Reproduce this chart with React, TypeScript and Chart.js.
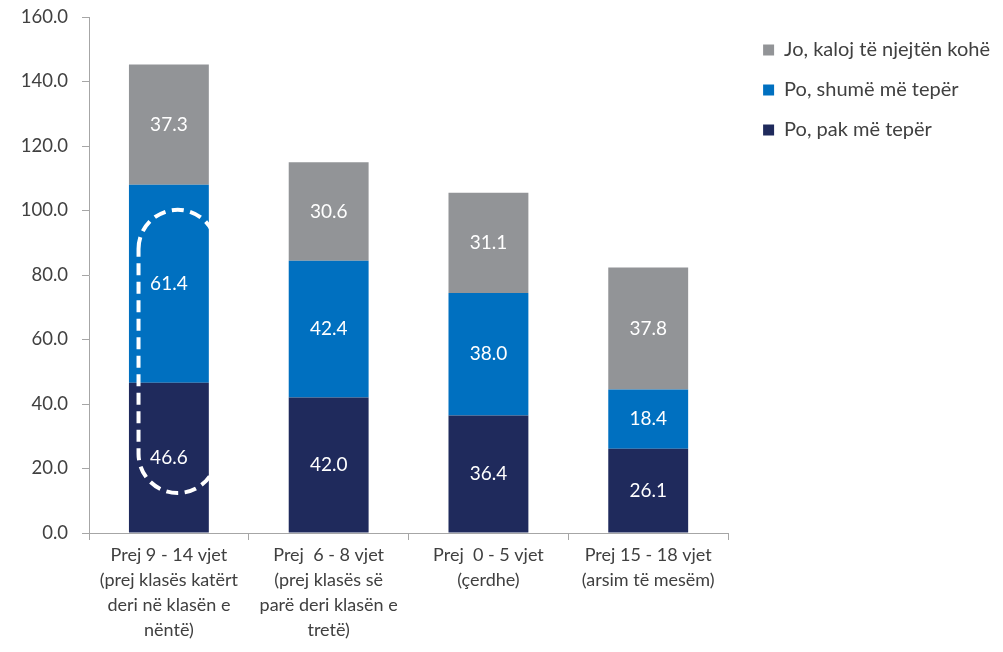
import React, { useEffect, useRef } from "react";
import { Chart, registerables } from "chart.js";

Chart.register(...registerables);

// ---- data ----
const categories: string[][] = [
  ["Prej 9 - 14 vjet", "(prej klasës katërt", "deri në klasën e", "nëntë)"],
  ["Prej  6 - 8 vjet", "(prej klasës së", "parë deri klasën e", "tretë)"],
  ["Prej  0 - 5 vjet", "(çerdhe)"],
  ["Prej 15 - 18 vjet", "(arsim të mesëm)"],
];
const seriesNames = ["Po, pak më tepër", "Po, shumë më tepër", "Jo, kaloj të njejtën kohë"];
const pakMeTeper = [46.6, 42.0, 36.4, 26.1];
const shumeMeTeper = [61.4, 42.4, 38.0, 18.4];
const njejtenKohe = [37.3, 30.6, 31.1, 37.8];
const yMin = 0;
const yMax = 160;
const yStep = 20;
// dashed highlight around the first category's lower two segments (value range)
const highlightCategory = 0;
const highlightRange = [12.4, 100.2];

const colors = ["#1F2A5C", "#0070C0", "#929497"];
const FONT = "Lato";
const TEXT = "#404040";
const AXIS = "#A6A6A6";

const valueLabels = {
  id: "valueLabels",
  afterDatasetsDraw(chart: any) {
    const ctx = chart.ctx;
    ctx.save();
    ctx.fillStyle = "#FFFFFF";
    ctx.font = `19px ${FONT}`;
    ctx.textAlign = "center";
    ctx.textBaseline = "middle";
    chart.data.datasets.forEach((ds: any, i: number) => {
      const meta = chart.getDatasetMeta(i);
      meta.data.forEach((bar: any, j: number) => {
        const v = ds.data[j];
        const p = bar.getProps(["x", "y", "base"], true);
        ctx.fillText(Number(v).toFixed(1), p.x, (p.y + p.base) / 2);
      });
    });
    ctx.restore();
  },
};

const highlight = {
  id: "highlight",
  afterDatasetsDraw(chart: any) {
    const bar = chart.getDatasetMeta(0).data[highlightCategory];
    if (!bar) return;
    const p = bar.getProps(["x", "width"], true);
    const ys = chart.scales.y;
    const top = ys.getPixelForValue(highlightRange[1]);
    const bottom = ys.getPixelForValue(highlightRange[0]);
    const cx = p.x + p.width * 0.11;
    const r = p.width * 0.49;
    const ctx = chart.ctx;
    ctx.save();
    ctx.beginPath();
    ctx.moveTo(cx - r, top + r);
    ctx.arc(cx, top + r, r, Math.PI, 0);
    ctx.lineTo(cx + r, bottom - r);
    ctx.arc(cx, bottom - r, r, 0, Math.PI);
    ctx.closePath();
    ctx.setLineDash([12, 6.5]);
    ctx.lineWidth = 4;
    ctx.strokeStyle = "#FFFFFF";
    ctx.stroke();
    ctx.restore();
  },
};

export default function App() {
  const ref = useRef<HTMLCanvasElement | null>(null);

  useEffect(() => {
    document.body.style.margin = "0";
    const canvas = ref.current;
    if (!canvas) return;
    const chart = new Chart(canvas, {
      type: "bar",
      data: {
        labels: categories,
        datasets: [
          { label: seriesNames[0], data: pakMeTeper, backgroundColor: colors[0] },
          { label: seriesNames[1], data: shumeMeTeper, backgroundColor: colors[1] },
          { label: seriesNames[2], data: njejtenKohe, backgroundColor: colors[2] },
        ],
      },
      options: {
        responsive: false,
        animation: false,
        devicePixelRatio: 1,
        layout: { padding: { top: 17, right: 3, bottom: 0, left: 0 } },
        datasets: { bar: { barPercentage: 0.5, categoryPercentage: 1 } },
        plugins: {
          tooltip: { enabled: false },
          legend: {
            position: "right",
            align: "start",
            reverse: true,
            maxWidth: 400,
            title: { display: true, text: "", padding: 0, font: { size: 3, lineHeight: 1 } },
            labels: {
              boxWidth: 11,
              boxHeight: 11,
              padding: 20,
              color: TEXT,
              font: { family: FONT, size: 20 },
            },
          },
        },
        scales: {
          x: {
            stacked: true,
            grid: { display: true, drawOnChartArea: false, drawTicks: true, tickLength: 7, color: AXIS, offset: true },
            border: { display: true, color: AXIS, width: 1 },
            ticks: {
              color: TEXT,
              font: { family: FONT, size: 18, lineHeight: 1.39 },
              padding: 3,
              maxRotation: 0,
              autoSkip: false,
            },
            afterFit: (s: any) => {
              s.height = 119;
            },
          },
          y: {
            stacked: true,
            min: yMin,
            max: yMax,
            grid: { display: true, drawOnChartArea: false, drawTicks: true, tickLength: 7, color: AXIS },
            border: { display: true, color: AXIS, width: 1 },
            ticks: {
              stepSize: yStep,
              color: TEXT,
              font: { family: FONT, size: 18.5 },
              padding: 14,
              callback: (v: any) => Number(v).toFixed(1),
            },
            afterFit: (s: any) => {
              s.width = 89;
              s.paddingTop = 8;
              s.paddingBottom = 8;
            },
          },
          spacer: {
            type: "linear",
            axis: "y",
            position: "right",
            display: true,
            grid: { display: false, drawTicks: false },
            border: { display: false },
            ticks: { display: false },
            afterFit: (s: any) => {
              s.width = 15;
              s.paddingTop = 0;
              s.paddingBottom = 0;
            },
          },
        },
      } as any,
      plugins: [valueLabels, highlight],
    });
    return () => chart.destroy();
  }, []);

  return (
    <div style={{ width: 1003, height: 652 }}>
      <canvas ref={ref} width={1003} height={652} />
    </div>
  );
}
